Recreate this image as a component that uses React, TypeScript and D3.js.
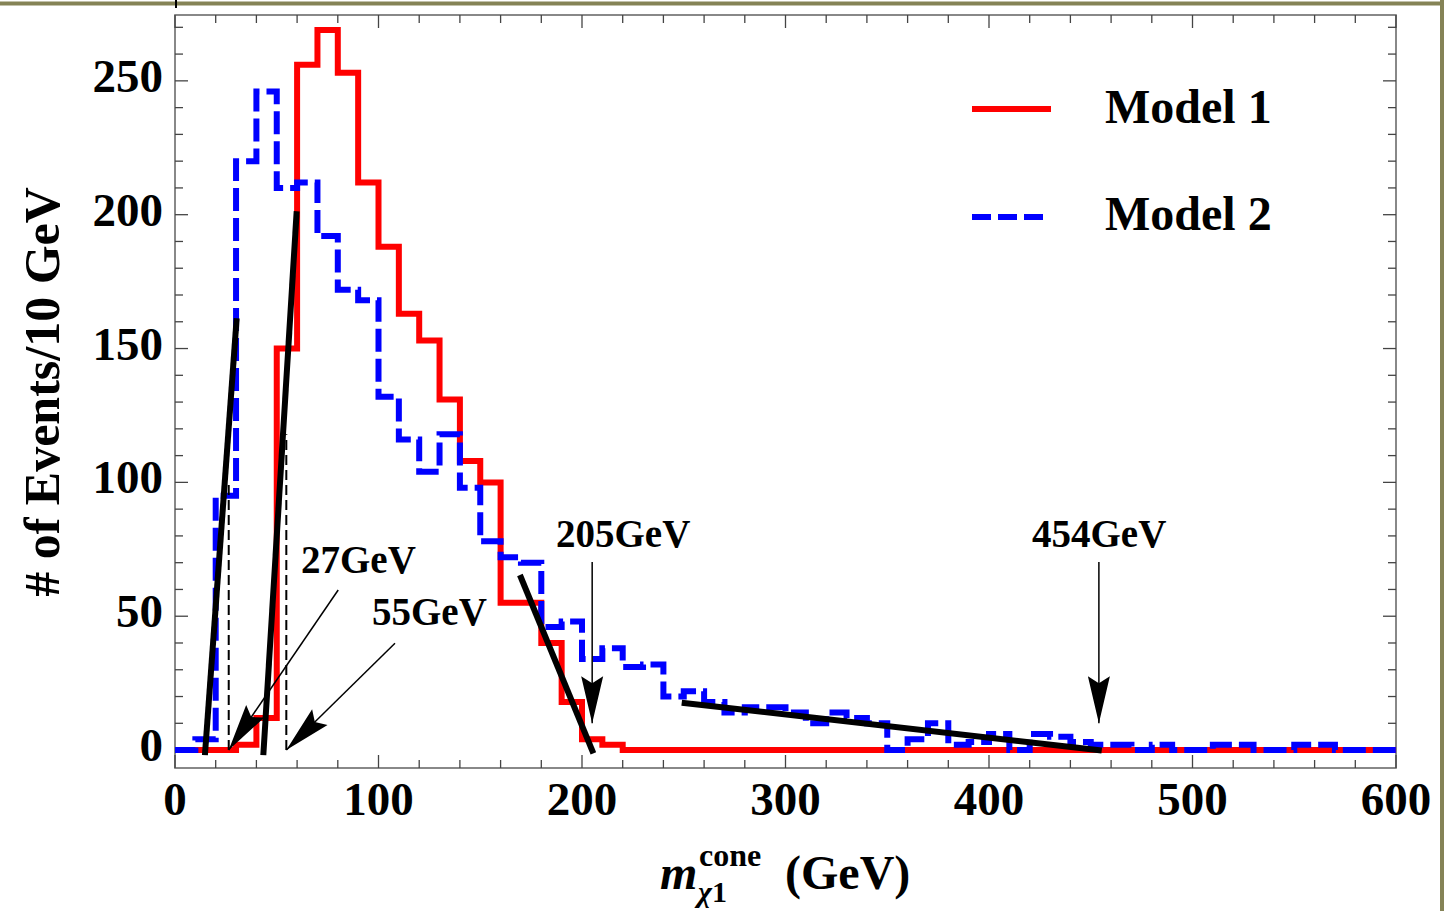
import React from "react";
import * as d3 from "d3";

// ---------- data ----------
const binStarts = [
  0, 10, 20, 30, 40, 50, 60, 70, 80, 90,
  100, 110, 120, 130, 140, 150, 160, 170, 180, 190,
  200, 210, 220, 230, 240, 250, 260, 270, 280, 290,
  300, 310, 320, 330, 340, 350, 360, 370, 380, 390,
  400, 410, 420, 430, 440, 450, 460, 470, 480, 490,
  500, 510, 520, 530, 540, 550, 560, 570, 580, 590,
];
const binWidth = 10;

const model1 = [
  0, 0, 0, 2, 12, 150, 256, 269, 253, 212,
  188, 163, 153, 131, 108, 100, 55, 55, 40, 18,
  4, 2, 0, 0, 0, 0, 0, 0, 0, 0,
  0, 0, 0, 0, 0, 0, 0, 0, 0, 0,
  0, 0, 0, 0, 0, 0, 0, 0, 0, 0,
  0, 0, 0, 0, 0, 0, 0, 0, 0, 0,
];

const model2 = [
  0, 4, 95, 220, 246, 210, 212, 192, 172, 168,
  132, 116, 104, 118, 98, 78, 72, 70, 46, 48,
  34, 38, 31, 32, 20, 22, 18, 14, 16, 16,
  14, 10, 14, 12, 10, 0, 4, 10, 2, 3,
  6, 0, 6, 5, 3, 2, 2, 0, 2, 0,
  0, 2, 2, 0, 0, 2, 2, 0, 0, 0,
];

const seriesNames = ["Model 1", "Model 2"];
const xTickLabels = [0, 100, 200, 300, 400, 500, 600];
const yTickLabels = [0, 50, 100, 150, 200, 250];

// fitted edge lines: [x1, y1, x2, y2] in data units
const fitLines = [
  [14.7, -1.9, 30.3, 161.3],
  [43.4, -1.9, 59.8, 201.3],
  [169.5, 65.4, 205.6, -1.2],
  [249.0, 17.7, 455.4, -0.2],
];

// dashed markers: [x, topValue]
const markerLines = [
  [26.4, 100],
  [54.7, 118],
];

// arrows: [tailX, tailY, tipX, tipY] in data units
const arrows = [
  [80.2, 59.8, 26.4, 0],
  [108.1, 39.9, 54.7, 0],
  [205, 70.3, 205, 10],
  [454, 70.3, 454, 10],
];

const annotations = ["27GeV", "55GeV", "205GeV", "454GeV"];

// ---------- layout ----------
const W = 1444;
const H = 911;
const left = 175;
const right = 1396;
const top = 15;
const bottom = 768;
const FONT = "'Liberation Serif', 'Times New Roman', serif";

export default function App() {
  const x = d3.scaleLinear().domain([0, 600]).range([left, right]);
  const y = d3.scaleLinear().domain([-6.7, 274.6]).range([bottom, top]);

  const histPath = (vals: number[]) => {
    const pts: [number, number][] = binStarts.map((b, i) => [b, vals[i]]);
    pts.push([binStarts[binStarts.length - 1] + binWidth, vals[vals.length - 1]]);
    return d3
      .line<[number, number]>()
      .x((d) => x(d[0]))
      .y((d) => y(d[1]))
      .curve(d3.curveStepAfter)(pts) as string;
  };

  const xMinor = d3.range(0, 601, 20);
  const yMinor = d3.range(0, 271, 10);

  const arrowHead = (a: number[]) => {
    const tx = x(a[2]);
    const ty = y(a[3]);
    const sx = x(a[0]);
    const sy = y(a[1]);
    const dx = sx - tx;
    const dy = sy - ty;
    const len = Math.hypot(dx, dy);
    const ux = dx / len;
    const uy = dy / len;
    const px = -uy;
    const py = ux;
    const L = 47;
    const hw = 11;
    const notch = 40;
    const p1 = [tx + ux * L + px * hw, ty + uy * L + py * hw];
    const p2 = [tx + ux * notch, ty + uy * notch];
    const p3 = [tx + ux * L - px * hw, ty + uy * L - py * hw];
    return `M${tx},${ty}L${p1[0]},${p1[1]}L${p2[0]},${p2[1]}L${p3[0]},${p3[1]}Z`;
  };

  const annPos = [
    [301, 573],
    [372, 625],
    [556, 547],
    [1032, 547],
  ];

  return (
    <svg
      width={W}
      height={H}
      style={{ position: "absolute", left: 0, top: 0, background: "#fff" }}
      fontFamily={FONT}
    >
      <rect x={0} y={0} width={W} height={H} fill="#fff" />
      {/* outer olive border */}
      <line x1={0} y1={3.5} x2={W} y2={3.5} stroke="#858356" strokeWidth={4} />
      <line x1={W - 2} y1={0} x2={W - 2} y2={H} stroke="#858356" strokeWidth={4} />
      <line x1={176} y1={0} x2={176} y2={8} stroke="#000" strokeWidth={2} />

      {/* frame */}
      <rect
        x={left}
        y={top}
        width={right - left}
        height={bottom - top}
        fill="none"
        stroke="#6b6b6b"
        strokeWidth={1.6}
      />

      {/* x ticks */}
      {xMinor.map((v) => {
        const major = v % 100 === 0;
        const len = major ? 13 : 8;
        return (
          <g key={"xt" + v} stroke="#444" strokeWidth={1.3}>
            <line x1={x(v)} x2={x(v)} y1={bottom} y2={bottom - len} />
            <line x1={x(v)} x2={x(v)} y1={top} y2={top + len} />
          </g>
        );
      })}
      {/* y ticks */}
      {yMinor.map((v) => {
        const major = v % 50 === 0;
        const len = major ? 13 : 8;
        return (
          <g key={"yt" + v} stroke="#444" strokeWidth={1.3}>
            <line x1={left} x2={left + len} y1={y(v)} y2={y(v)} />
            <line x1={right} x2={right - len} y1={y(v)} y2={y(v)} />
          </g>
        );
      })}

      {/* tick labels */}
      {xTickLabels.map((v) => (
        <text
          key={"xl" + v}
          x={x(v)}
          y={815}
          textAnchor="middle"
          fontSize={47}
          fontWeight="bold"
        >
          {v}
        </text>
      ))}
      {yTickLabels.map((v) => (
        <text
          key={"yl" + v}
          x={163}
          y={y(v) + 11}
          textAnchor="end"
          fontSize={47}
          fontWeight="bold"
        >
          {v}
        </text>
      ))}

      {/* histograms */}
      <path d={histPath(model1)} fill="none" stroke="#ff0000" strokeWidth={6} strokeLinejoin="miter" />
      <path
        d={histPath(model2)}
        fill="none"
        stroke="#0000ff"
        strokeWidth={6}
        strokeDasharray="23,7"
        strokeLinejoin="miter"
      />

      {/* dashed markers */}
      {markerLines.map((m, i) => (
        <line
          key={"m" + i}
          x1={x(m[0])}
          x2={x(m[0])}
          y1={y(0)}
          y2={y(m[1])}
          stroke="#000"
          strokeWidth={2}
          strokeDasharray="10,5"
        />
      ))}

      {/* fit lines */}
      {fitLines.map((l, i) => (
        <line
          key={"f" + i}
          x1={x(l[0])}
          y1={y(l[1])}
          x2={x(l[2])}
          y2={y(l[3])}
          stroke="#000"
          strokeWidth={6}
        />
      ))}

      {/* arrows */}
      {arrows.map((a, i) => (
        <g key={"a" + i}>
          <line
            x1={x(a[0])}
            y1={y(a[1])}
            x2={x(a[2])}
            y2={y(a[3])}
            stroke="#000"
            strokeWidth={1.5}
          />
          <path d={arrowHead(a)} fill="#000" />
        </g>
      ))}

      {/* annotations */}
      {annotations.map((t, i) => (
        <text key={"t" + i} x={annPos[i][0]} y={annPos[i][1]} fontSize={39} fontWeight="bold">
          {t}
        </text>
      ))}

      {/* legend */}
      <line x1={972} x2={1051} y1={109} y2={109} stroke="#ff0000" strokeWidth={6} />
      <line
        x1={972}
        x2={1043}
        y1={217}
        y2={217}
        stroke="#0000ff"
        strokeWidth={6}
        strokeDasharray="19,7"
      />
      <text x={1105} y={123} fontSize={48} fontWeight="bold">
        {seriesNames[0]}
      </text>
      <text x={1105} y={230} fontSize={48} fontWeight="bold">
        {seriesNames[1]}
      </text>

      {/* axis titles */}
      <text
        transform="translate(59,392) rotate(-90)"
        textAnchor="middle"
        fontSize={50}
        fontWeight="bold"
      >
        # of Events/10 GeV
      </text>
      <text x={660} y={889} fontSize={48} fontWeight="bold" fontStyle="italic">
        m
      </text>
      <text x={699} y={866} fontSize={32} fontWeight="bold">
        cone
      </text>
      <text x={698} y={902} fontSize={30} fontWeight="bold">
        <tspan fontStyle="italic">χ</tspan>
        <tspan>1</tspan>
      </text>
      <text x={785} y={889} fontSize={48} fontWeight="bold">
        (GeV)
      </text>
    </svg>
  );
}
